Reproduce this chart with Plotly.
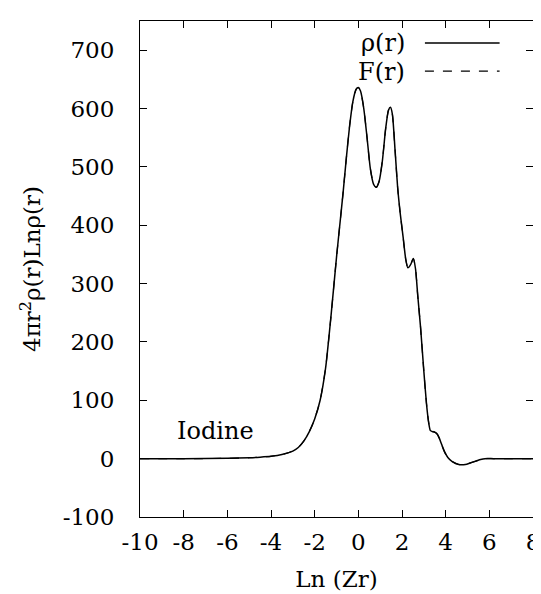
import plotly.graph_objects as go

# Data
ln_zr = [-10, -8, -6, -5, -4.5, -4, -3.5, -3, -2.75, -2.5, -2.25, -2, -1.75, -1.5,
         -1.25, -1.0, -0.85, -0.7, -0.55, -0.4, -0.25, -0.1, 0.0, 0.1, 0.25, 0.4,
         0.55, 0.7, 0.82, 0.95, 1.1, 1.25, 1.38, 1.47, 1.56, 1.68, 1.8, 1.92, 2.05,
         2.17, 2.27, 2.4, 2.52, 2.62, 2.72, 2.85, 3.0, 3.12, 3.22, 3.3, 3.42, 3.52,
         3.62, 3.7, 3.82, 3.95, 4.1, 4.3, 4.6, 4.9, 5.15, 5.4, 5.6, 5.8, 6.2, 8]

rho_vals = [0, 0, 0.5, 1.5, 2.5, 4, 7, 13, 19, 30, 46, 68, 100, 155,
            245, 345, 400, 455, 515, 570, 612, 633, 636, 630, 600, 550,
            497, 470, 465, 475, 510, 565, 597, 602, 590, 530, 465, 420, 380,
            342, 327, 333, 343, 325, 280, 225, 150, 95, 62, 48, 46, 45,
            42, 36, 24, 12, 2, -5, -10, -10, -7, -4, -1.5, 0, 0, 0]

f_vals = [0, 0, 0.5, 1.5, 2.5, 4, 7, 13, 19, 30, 46, 68, 100, 155,
          245, 345, 400, 455, 515, 570, 612, 633, 636, 630, 600, 550,
          497, 470, 465, 475, 510, 565, 597, 602, 590, 530, 465, 420, 380,
          342, 327, 333, 343, 325, 280, 225, 150, 95, 62, 49, 47, 45,
          41, 35, 23, 11, 1, -5, -10, -10, -7, -4, -1.5, 0, 0, 0]

x_ticks = [-10, -8, -6, -4, -2, 0, 2, 4, 6, 8]
x_labels = ["-10", "-8", "-6", "-4", "-2", "0", "2", "4", "6", "8"]
y_ticks = [-100, 0, 100, 200, 300, 400, 500, 600, 700]
y_labels = ["-100", "0", "100", "200", "300", "400", "500", "600", "700"]

FONT = "DejaVu Serif"

fig = go.Figure()
fig.add_trace(go.Scatter(x=ln_zr, y=f_vals, mode="lines", name="F(r)",
                         line=dict(color="black", width=1.2, dash="dash",
                                   shape="spline", smoothing=0.6),
                         showlegend=False))
fig.add_trace(go.Scatter(x=ln_zr, y=rho_vals, mode="lines", name="ρ(r)",
                         line=dict(color="black", width=1.5,
                                   shape="spline", smoothing=0.6),
                         showlegend=False))

axis_common = dict(showline=True, linecolor="black", linewidth=1, mirror="ticks",
                   ticks="inside", ticklen=7, tickcolor="black", showgrid=False,
                   zeroline=False, tickfont=dict(family=FONT, size=23, color="black"))

fig.update_layout(
    width=541, height=594,
    margin=dict(l=132, r=9, t=13, b=85),
    paper_bgcolor="white", plot_bgcolor="white",
    font=dict(family=FONT, size=23, color="black"),
    xaxis=dict(range=[-10, 8], tickvals=x_ticks, ticktext=x_labels, ticklabelstandoff=4,
               title=dict(text="Ln (Zr)", font=dict(family=FONT, size=23), standoff=17),
               **axis_common),
    yaxis=dict(range=[-100, 750], tickvals=y_ticks, ticktext=y_labels, ticklabelstandoff=20,
               title=dict(text="4πr<sup>2</sup>ρ(r)Lnρ(r)", font=dict(family=FONT, size=23),
                          standoff=15),
               **axis_common),
    annotations=[
        dict(text="Iodine", x=-6.55, y=48, xref="x", yref="y", showarrow=False,
             font=dict(family=FONT, size=24, color="black")),
        dict(text="ρ(r)", x=0.68, y=0.955, xref="paper", yref="paper", xanchor="right",
             yanchor="middle", showarrow=False, font=dict(family=FONT, size=24, color="black")),
        dict(text="F(r)", x=0.68, y=0.897, xref="paper", yref="paper", xanchor="right",
             yanchor="middle", showarrow=False, font=dict(family=FONT, size=24, color="black")),
    ],
    shapes=[
        dict(type="line", xref="paper", yref="paper", x0=0.725, x1=0.915, y0=0.9556, y1=0.9556,
             line=dict(color="black", width=1.5)),
        dict(type="line", xref="paper", yref="paper", x0=0.725, x1=0.915, y0=0.899, y1=0.899,
             line=dict(color="black", width=1.2, dash="dash")),
    ],
)

fig.write_html("out.html")
